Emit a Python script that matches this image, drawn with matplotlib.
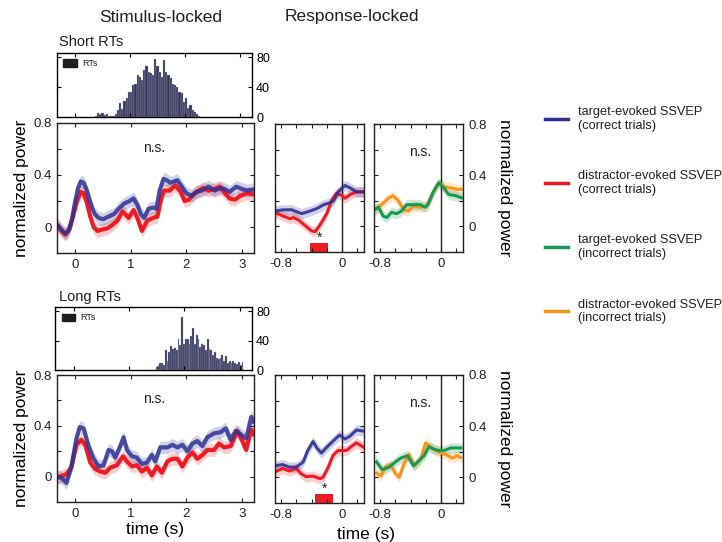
import numpy as np
import matplotlib
matplotlib.use('Agg')
import matplotlib.pyplot as plt
from matplotlib.lines import Line2D
from matplotlib.patches import Patch, Rectangle

plt.rcParams['font.family'] = ['Liberation Sans', 'DejaVu Sans']
plt.rcParams['text.color'] = '#231f20'

BLUE = '#2e3192'
RED = '#ed1c24'
GREEN = '#1a9a50'
ORANGE = '#f7941d'
HIST = '#33325a'

# ---------------- short RTs ----------------
short_rt_start, short_rt_width = 0.36, 0.04
short_rt_counts = [2, 5, 4, 5, 3, 4, 2, 1, 2, 4, 9, 19, 11, 21, 25, 33, 34, 43, 44, 57,
                   54, 50, 63, 68, 61, 59, 56, 78, 68, 61, 54, 77, 61, 56, 52, 45, 43, 41,
                   33, 32, 20, 25, 12, 16, 9, 7, 4, 1]

s_stim_t_blue = [-0.33, -0.25, -0.18, -0.12, -0.06, 0.0, 0.05, 0.1, 0.15, 0.2, 0.25, 0.3, 0.35,
                 0.42, 0.5, 0.6, 0.7, 0.78, 0.88, 0.98, 1.05, 1.12, 1.18, 1.24, 1.32, 1.4, 1.46,
                 1.52, 1.59, 1.65, 1.71, 1.78, 1.84, 1.92, 2.0, 2.1, 2.19, 2.28, 2.4, 2.51, 2.63,
                 2.7, 2.78, 2.9, 3.02, 3.1, 3.22]
s_stim_blue = [0.02, -0.02, -0.05, -0.03, 0.06, 0.2, 0.3, 0.35, 0.34, 0.29, 0.22, 0.15, 0.1,
               0.07, 0.06, 0.08, 0.1, 0.14, 0.18, 0.2, 0.22, 0.17, 0.1, 0.07, 0.14, 0.15, 0.14,
               0.28, 0.37, 0.36, 0.34, 0.35, 0.36, 0.31, 0.26, 0.24, 0.27, 0.28, 0.31, 0.28, 0.3,
               0.29, 0.27, 0.31, 0.29, 0.28, 0.29]
s_stim_t_red = [-0.33, -0.25, -0.18, -0.1, -0.03, 0.03, 0.1, 0.15, 0.2, 0.27, 0.33, 0.4, 0.48,
                0.58, 0.68, 0.76, 0.85, 0.92, 0.96, 1.05, 1.12, 1.2, 1.3, 1.4, 1.48, 1.55, 1.6,
                1.7, 1.8, 1.9, 1.97, 2.05, 2.15, 2.3, 2.4, 2.5, 2.6, 2.68, 2.78, 2.88, 2.97, 3.1, 3.22]
s_stim_red = [0.02, -0.03, -0.06, -0.01, 0.1, 0.2, 0.27, 0.26, 0.2, 0.08, 0.0, -0.03, -0.02,
              -0.01, 0.02, 0.05, 0.12, 0.09, 0.07, 0.13, 0.07, -0.03, 0.05, 0.07, 0.08, 0.22, 0.28,
              0.28, 0.32, 0.27, 0.2, 0.21, 0.26, 0.3, 0.28, 0.29, 0.31, 0.27, 0.22, 0.21, 0.24, 0.26, 0.25]

s_resp_t_blue = [-0.88, -0.77, -0.66, -0.62, -0.53, -0.42, -0.33, -0.24, -0.18, -0.11, -0.05, 0.04, 0.11, 0.19, 0.29]
s_resp_blue = [0.12, 0.13, 0.13, 0.12, 0.10, 0.12, 0.14, 0.17, 0.18, 0.20, 0.27, 0.32, 0.30, 0.27, 0.27]
s_resp_t_red = [-0.88, -0.77, -0.68, -0.64, -0.57, -0.49, -0.40, -0.35, -0.29, -0.2, -0.13, -0.07, 0.0, 0.04, 0.11, 0.19, 0.29]
s_resp_red = [0.11, 0.08, 0.06, 0.07, 0.05, 0.01, -0.035, -0.04, 0.01, 0.10, 0.21, 0.26, 0.24, 0.22, 0.25, 0.27, 0.27]
s_resp_t_green = [-0.87, -0.82, -0.76, -0.71, -0.65, -0.58, -0.52, -0.45, -0.36, -0.27, -0.21, -0.17, -0.1, -0.03, 0.04, 0.1, 0.19, 0.29]
s_resp_green = [0.13, 0.15, 0.08, 0.07, 0.11, 0.10, 0.12, 0.17, 0.17, 0.17, 0.15, 0.17, 0.27, 0.34, 0.30, 0.25, 0.24, 0.22]
s_resp_t_orange = [-0.87, -0.8, -0.69, -0.63, -0.56, -0.49, -0.43, -0.36, -0.27, -0.19, -0.1, -0.03, 0.04, 0.13, 0.21, 0.29]
s_resp_orange = [0.13, 0.16, 0.22, 0.24, 0.2, 0.13, 0.12, 0.16, 0.15, 0.16, 0.27, 0.34, 0.31, 0.30, 0.29, 0.29]
s_sig = [-0.42, -0.18]

# ---------------- long RTs ----------------
long_rt_start, long_rt_width = 1.48, 0.033
long_rt_counts = [4, 6, 9, 10, 7, 27, 13, 24, 33, 29, 30, 27, 43, 34, 72, 35, 43, 43, 35, 46,
                  57, 36, 48, 43, 31, 35, 34, 27, 43, 29, 27, 20, 24, 17, 15, 16, 20, 13, 19,
                  10, 13, 9, 13, 9, 8, 11, 7, 11]

l_stim_t_blue = [-0.34, -0.25, -0.16, -0.07, 0.02, 0.08, 0.15, 0.24, 0.33, 0.42, 0.51, 0.6, 0.66,
                 0.72, 0.81, 0.87, 0.93, 1.02, 1.11, 1.2, 1.29, 1.38, 1.44, 1.53, 1.66, 1.75, 1.84,
                 1.93, 2.02, 2.11, 2.2, 2.29, 2.38, 2.5, 2.62, 2.71, 2.8, 2.89, 2.99, 3.08, 3.17, 3.23]
l_stim_blue = [0.0, -0.01, -0.05, 0.08, 0.30, 0.39, 0.38, 0.24, 0.14, 0.08, 0.09, 0.21, 0.2,
               0.15, 0.24, 0.31, 0.21, 0.16, 0.15, 0.10, 0.11, 0.17, 0.12, 0.23, 0.23, 0.25, 0.23,
               0.25, 0.2, 0.26, 0.28, 0.24, 0.31, 0.34, 0.35, 0.38, 0.29, 0.36, 0.33, 0.3, 0.47, 0.42]
l_stim_t_red = [-0.34, -0.16, -0.07, 0.02, 0.11, 0.18, 0.27, 0.36, 0.45, 0.54, 0.63, 0.75, 0.86,
                0.93, 1.02, 1.11, 1.2, 1.29, 1.38, 1.47, 1.56, 1.66, 1.75, 1.84, 1.93, 2.02, 2.11,
                2.2, 2.29, 2.38, 2.5, 2.59, 2.68, 2.8, 2.92, 2.99, 3.08, 3.17, 3.23]
l_stim_red = [-0.01, 0.02, 0.07, 0.25, 0.29, 0.25, 0.11, 0.06, 0.04, 0.03, 0.07, 0.09, 0.16,
              0.12, 0.08, 0.09, 0.04, 0.07, 0.01, 0.08, 0.03, 0.12, 0.14, 0.14, 0.08, 0.15, 0.19,
              0.14, 0.17, 0.21, 0.21, 0.26, 0.23, 0.24, 0.36, 0.30, 0.21, 0.37, 0.32]

l_resp_t_blue = [-0.89, -0.78, -0.69, -0.6, -0.51, -0.45, -0.38, -0.33, -0.27, -0.21, -0.14, -0.07, -0.03, 0.04, 0.1, 0.19, 0.3]
l_resp_blue = [0.09, 0.10, 0.08, 0.08, 0.12, 0.21, 0.28, 0.23, 0.19, 0.23, 0.27, 0.31, 0.33, 0.30, 0.32, 0.37, 0.36]
l_resp_t_red = [-0.89, -0.78, -0.69, -0.6, -0.54, -0.47, -0.38, -0.29, -0.25, -0.18, -0.12, -0.05, 0.0, 0.06, 0.12, 0.19, 0.3]
l_resp_red = [0.04, 0.07, 0.05, 0.07, 0.03, 0.005, 0.01, -0.01, 0.0, 0.08, 0.17, 0.21, 0.21, 0.21, 0.24, 0.27, 0.23]
l_resp_t_green = [-0.86, -0.77, -0.68, -0.6, -0.53, -0.44, -0.36, -0.29, -0.22, -0.16, -0.09, -0.03, 0.04, 0.13, 0.21, 0.28]
l_resp_green = [0.13, 0.06, 0.08, 0.12, 0.15, 0.17, 0.09, 0.13, 0.17, 0.24, 0.22, 0.21, 0.21, 0.23, 0.23, 0.23]
l_resp_t_orange = [-0.86, -0.79, -0.73, -0.66, -0.6, -0.55, -0.49, -0.42, -0.35, -0.27, -0.2, -0.14, -0.07, 0.0, 0.06, 0.15, 0.21, 0.28]
l_resp_orange = [0.04, 0.01, 0.08, 0.10, 0.03, 0.0, 0.10, 0.18, 0.09, 0.14, 0.27, 0.24, 0.21, 0.19, 0.18, 0.15, 0.17, 0.15]
l_sig = [-0.35, -0.12]

# error band half-widths
sem_stim = 0.05
sem_resp = 0.04

legend_labels = ['target-evoked SSVEP\n(correct trials)',
                 'distractor-evoked SSVEP\n(correct trials)',
                 'target-evoked SSVEP\n(incorrect trials)',
                 'distractor-evoked SSVEP\n(incorrect trials)']

STIM_XLIM = (-0.33, 3.22)
RESP_XLIM = (-0.88, 0.29)
YLIM = (-0.2, 0.8)

fig = plt.figure(figsize=(7.22, 5.42), dpi=100)


def base_style(ax):
    ax.tick_params(direction='in', length=3, width=0.8, top=True, right=True,
                   labelsize=9.5, pad=4, colors='#231f20')
    for s in ax.spines.values():
        s.set_linewidth(1.0)
        s.set_color('#231f20')
    ax.set_ylim(*YLIM)
    ax.set_yticks([0, 0.2, 0.4, 0.6, 0.8])


def trace(ax, t, v, color, sem, lw, alpha=1.0):
    t = np.asarray(t)
    v = np.asarray(v)
    ax.fill_between(t, v - sem, v + sem, color=color, alpha=0.22, lw=0)
    ax.plot(t, v, color=color, lw=lw, alpha=alpha, solid_capstyle='butt')


def draw_hist(rect, start, width, counts):
    ax = fig.add_axes(rect)
    edges = start + width * np.arange(len(counts))
    ax.bar(edges, counts, width=width, align='edge', color=HIST,
           edgecolor='#b5b5c8', linewidth=0.25)
    ax.set_xlim(*STIM_XLIM)
    ax.set_ylim(0, 86)
    ax.yaxis.tick_right()
    ax.set_yticks([0, 40, 80])
    ax.set_xticks([0, 1, 2, 3])
    ax.tick_params(direction='in', length=3, width=0.8, top=True, left=True, right=True,
                   labelbottom=False, labelsize=9, pad=3)
    for s in ax.spines.values():
        s.set_linewidth(1.0)
    ax.legend([Patch(color='#1f1f1f')], ['RTs'], loc='upper left', frameon=False,
              fontsize=6.5, handlelength=1.5, handleheight=0.9, handletextpad=0.6,
              borderaxespad=0.3)
    return ax


def draw_stim(rect, tb, vb, tr, vr, show_xlabel):
    ax = fig.add_axes(rect)
    base_style(ax)
    trace(ax, tr, vr, RED, sem_stim, 3.0)
    trace(ax, tb, vb, BLUE, sem_stim, 3.0, alpha=0.85)
    ax.set_xlim(*STIM_XLIM)
    ax.set_xticks([0, 1, 2, 3])
    ax.set_yticklabels(['0', '', '0.4', '', '0.8'])
    ax.set_ylabel('normalized power', fontsize=12.5, labelpad=3)
    ax.text(1.42, 0.61, 'n.s.', ha='center', va='center', fontsize=10)
    if show_xlabel:
        ax.set_xlabel('time (s)', fontsize=12.5, labelpad=2)
    return ax


def draw_resp(rect1, rect2, data1, data2, sig, show_xlabel):
    ax1 = fig.add_axes(rect1)
    ax2 = fig.add_axes(rect2)
    for ax in (ax1, ax2):
        base_style(ax)
        ax.set_xlim(*RESP_XLIM)
        ax.set_xticks([-0.8, -0.6, -0.4, -0.2, 0, 0.2])
        ax.set_xticklabels(['-0.8', '', '', '', '0', ''])
        ax.axvline(0, color='#231f20', lw=1.0)
    for t, v, c in data1:
        trace(ax1, t, v, c, sem_resp, 2.2, alpha=0.9 if c == BLUE else 1.0)
    for t, v, c in data2:
        trace(ax2, t, v, c, sem_resp, 2.2)
    ax1.set_yticklabels([])
    ax2.yaxis.set_label_position('right')
    ax2.tick_params(labelleft=False, labelright=True)
    ax2.set_yticklabels(['0', '', '0.4', '', '0.8'])
    ax2.set_ylabel('normalized power', fontsize=12.5, rotation=270, labelpad=18)
    ax1.add_patch(Rectangle((sig[0], -0.2), sig[1] - sig[0], 0.07, color=RED, lw=0))
    ax1.text((sig[0] + sig[1]) / 2, -0.09, '*', ha='center', va='center', fontsize=10)
    ax2.text(-0.28, 0.58, 'n.s.', ha='center', va='center', fontsize=10)
    if show_xlabel:
        ax1.set_xlabel('time (s)', fontsize=12.5, labelpad=2)
        ax1.xaxis.set_label_coords(1.02, -0.19)
    return ax1, ax2


# top row: short RTs
draw_hist([0.0789, 0.7841, 0.2701, 0.1181], short_rt_start, short_rt_width, short_rt_counts)
draw_stim([0.0789, 0.5332, 0.2729, 0.2399], s_stim_t_blue, s_stim_blue, s_stim_t_red, s_stim_red, False)
draw_resp([0.3809, 0.5350, 0.1233, 0.2362], [0.5180, 0.5350, 0.1233, 0.2362],
          [(s_resp_t_red, s_resp_red, RED), (s_resp_t_blue, s_resp_blue, BLUE)],
          [(s_resp_t_orange, s_resp_orange, ORANGE), (s_resp_t_green, s_resp_green, GREEN)],
          s_sig, False)

# bottom row: long RTs
draw_hist([0.0768, 0.3173, 0.2722, 0.1162], long_rt_start, long_rt_width, long_rt_counts)
draw_stim([0.0789, 0.0738, 0.2729, 0.2343], l_stim_t_blue, l_stim_blue, l_stim_t_red, l_stim_red, True)
draw_resp([0.3809, 0.0720, 0.1233, 0.2362], [0.5180, 0.0720, 0.1233, 0.2362],
          [(l_resp_t_red, l_resp_red, RED), (l_resp_t_blue, l_resp_blue, BLUE)],
          [(l_resp_t_orange, l_resp_orange, ORANGE), (l_resp_t_green, l_resp_green, GREEN)],
          l_sig, True)

fig.text(161 / 722, 1 - 17 / 542, 'Stimulus-locked', ha='center', va='center', fontsize=12.5)
fig.text(352 / 722, 1 - 17 / 542, 'Response-locked', ha='center', va='center', fontsize=12.5)
fig.text(59 / 722, 1 - 42 / 542, 'Short RTs', ha='left', va='center', fontsize=10.5)
fig.text(59 / 722, 1 - 297 / 542, 'Long RTs', ha='left', va='center', fontsize=10.5)

handles = [Line2D([], [], color=c, lw=2.5) for c in (BLUE, RED, GREEN, ORANGE)]
fig.legend(handles, legend_labels, loc='upper left', bbox_to_anchor=(540 / 722, 1 - 101 / 542),
           frameon=False, fontsize=9.2, handlelength=1.8, handletextpad=0.8, labelspacing=3.0,
           borderaxespad=0)

fig.savefig('out.png', dpi=100)
